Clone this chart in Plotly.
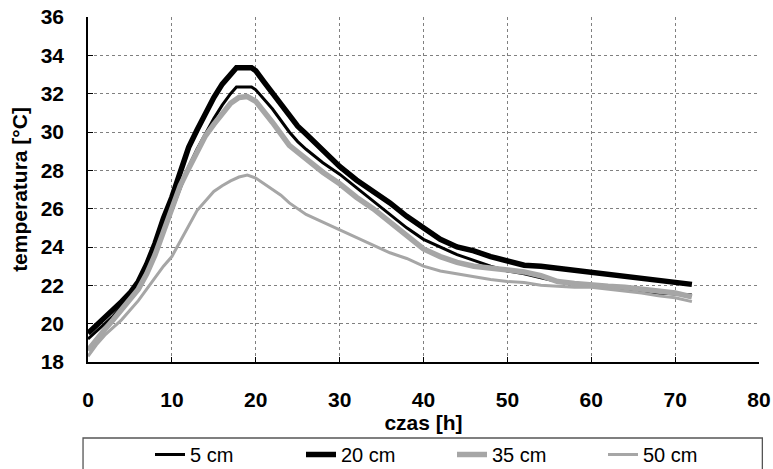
import plotly.graph_objects as go

# time axis points [h]
t_5 = [0, 1, 2, 3, 4, 5, 6, 7, 8, 9, 10, 11, 12, 13, 14, 15, 16, 17, 17.7, 19.5, 20, 21, 22, 23, 24, 25, 26, 28, 30,
       32, 34, 36, 38, 40, 42, 44, 46, 48, 50, 52, 54, 56, 58, 60, 62, 64, 66, 68, 70, 72]
temp_5 = [19.2, 19.6, 20.0, 20.4, 20.9, 21.4, 21.9, 22.7, 23.7, 24.8, 25.9, 27.0, 28.2, 29.1, 29.9, 30.7, 31.4, 32.0,
          32.35, 32.35, 32.2, 31.7, 31.2, 30.6, 30.0, 29.5, 29.1, 28.4, 27.8, 27.1, 26.4, 25.7, 25.0, 24.4, 24.0,
          23.6, 23.3, 23.0, 22.75, 22.6, 22.4, 22.2, 22.1, 22.0, 21.9, 21.8, 21.7, 21.6, 21.55, 21.5]

t_20 = [0, 1, 2, 3, 4, 5, 6, 7, 8, 9, 10, 11, 12, 13, 14, 15, 16, 17, 17.7, 19.5, 20, 21, 22, 23, 24, 25, 26, 28, 30,
        32, 34, 36, 38, 40, 42, 44, 46, 48, 50, 52, 54, 56, 58, 60, 62, 64, 66, 68, 70, 72]
temp_20 = [19.5, 19.9, 20.35, 20.75, 21.15, 21.6, 22.2, 23.1, 24.2, 25.5, 26.6, 27.9, 29.2, 30.1, 31.0, 31.8, 32.5,
           33.0, 33.35, 33.35, 33.2, 32.6, 32.0, 31.4, 30.8, 30.3, 29.9, 29.0, 28.2, 27.5, 26.9, 26.3, 25.6, 25.0,
           24.4, 24.0, 23.8, 23.5, 23.25, 23.05, 23.0, 22.9, 22.8, 22.7, 22.6, 22.5, 22.4, 22.3, 22.15, 22.05]

t_35 = [0, 1, 2, 3, 4, 5, 6, 7, 8, 9, 10, 11, 12, 13, 14, 15, 16, 17, 18, 19, 20, 21, 22, 23, 24, 25, 26, 28, 30,
        32, 34, 36, 38, 40, 42, 44, 46, 48, 50, 52, 54, 56, 58, 60, 62, 64, 66, 68, 70, 72]
temp_35 = [18.6, 19.2, 19.7, 20.2, 20.7, 21.2, 21.8, 22.6, 23.6, 24.8, 26.0, 27.2, 28.1, 29.0, 29.8, 30.4, 31.0,
           31.5, 31.8, 31.85, 31.6, 31.1, 30.5, 29.9, 29.3, 28.95, 28.6, 27.9, 27.3, 26.6, 26.0, 25.3, 24.6, 23.9,
           23.5, 23.2, 23.0, 22.9, 22.85, 22.7, 22.5, 22.2, 22.1, 22.0, 21.95, 21.9, 21.8, 21.7, 21.6, 21.4]

t_50 = [0, 1, 2, 3, 4, 5, 6, 7, 8, 9, 10, 11, 12, 13, 14, 15, 16, 17, 18, 19, 20, 21, 22, 23, 24, 25, 26, 28, 30,
        32, 34, 36, 38, 40, 42, 44, 46, 48, 50, 52, 54, 56, 58, 60, 62, 64, 66, 68, 70, 72]
temp_50 = [18.3, 18.9, 19.4, 19.8, 20.2, 20.7, 21.2, 21.8, 22.4, 23.0, 23.5, 24.3, 25.1, 25.9, 26.4, 26.9, 27.2,
           27.45, 27.65, 27.75, 27.6, 27.3, 27.0, 26.7, 26.3, 26.0, 25.7, 25.3, 24.9, 24.5, 24.1, 23.7, 23.4, 23.0,
           22.75, 22.6, 22.45, 22.3, 22.2, 22.15, 22.0, 21.95, 21.9, 21.9, 21.8, 21.7, 21.6, 21.45, 21.35, 21.15]

series_names = ["5 cm", "20 cm", "35 cm", "50 cm"]
x_ticks = [0, 10, 20, 30, 40, 50, 60, 70, 80]
y_ticks = [18, 20, 22, 24, 26, 28, 30, 32, 34, 36]

GREY = "#a6a6a6"
styles = [("black", 3), ("black", 5.5), (GREY, 5.5), (GREY, 3)]
data = [(t_5, temp_5), (t_20, temp_20), (t_35, temp_35), (t_50, temp_50)]

fig = go.Figure()
for name, (tx, ty), (col, w) in zip(series_names, data, styles):
    fig.add_trace(go.Scatter(x=tx, y=ty, mode="lines", name=name,
                             line=dict(color=col, width=w)))

FONT = "Liberation Sans, Arial, sans-serif"
fig.update_layout(
    width=773, height=469,
    margin=dict(l=88, r=14, t=17, b=107, autoexpand=False),
    paper_bgcolor="white", plot_bgcolor="white",
    font=dict(family=FONT, color="black"),
    showlegend=True,
    legend=dict(orientation="h", xref="paper", x=0.0924, xanchor="left",
                yref="paper", y=-0.2116, yanchor="top",
                entrywidth=106, entrywidthmode="pixels", itemwidth=30,
                font=dict(family=FONT, size=20, color="black"),
                bgcolor="rgba(0,0,0,0)", borderwidth=0),
    shapes=[dict(type="rect", xref="paper", yref="paper", x0=-0.0074, x1=1.005,
                 y0=-0.36, y1=-0.2203, line=dict(color="#555555", width=1.3),
                 fillcolor="rgba(0,0,0,0)", layer="below")],
)
fig.update_xaxes(range=[0, 80], tickvals=x_ticks, showgrid=True, gridcolor="#808080",
                 griddash="dot", gridwidth=1, showline=True, linecolor="black", linewidth=1.5,
                 ticks="inside", ticklen=5, tickcolor="black", zeroline=False,
                 ticklabelstandoff=18, automargin=False,
                 tickfont=dict(family=FONT, size=21, color="black", weight="bold"),
                 title=dict(text="<b>czas [h]</b>", font=dict(family=FONT, size=21), standoff=5))
fig.update_yaxes(range=[18, 36], tickvals=y_ticks, showgrid=True, gridcolor="#808080",
                 griddash="dot", gridwidth=1, showline=True, linecolor="black", linewidth=1.5,
                 ticks="inside", ticklen=5, tickcolor="black", zeroline=False,
                 ticklabelstandoff=18, automargin=False,
                 tickfont=dict(family=FONT, size=21, color="black", weight="bold"),
                 title=dict(text="<b>temperatura [°C]</b>", font=dict(family=FONT, size=21), standoff=7))

fig.write_html("out.html", config={"displayModeBar": False},
               post_script="document.body.style.margin='0';document.body.style.overflow='hidden';")
